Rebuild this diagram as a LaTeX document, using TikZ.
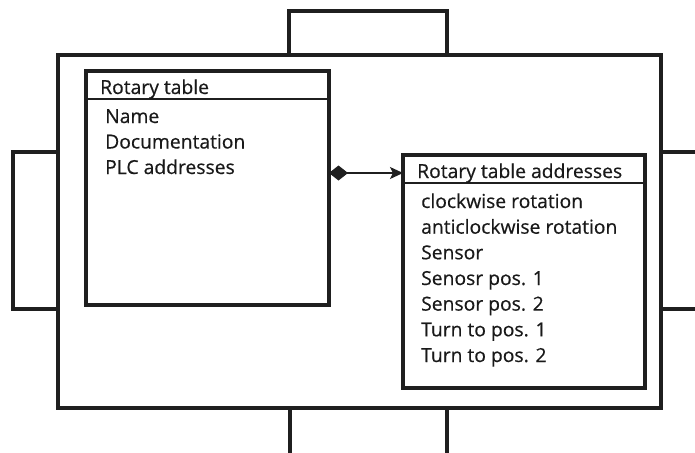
\documentclass[tikz,border=0pt]{standalone}
\usepackage{fontspec}
\setmainfont[FakeBold=0.5]{Open Sans}
\usetikzlibrary{arrows.meta}
\begin{document}
\begin{tikzpicture}[x=1pt,y=-1pt,
  frm/.style={draw=black!88, line width=3.3pt, inner sep=0pt, outer sep=0pt, anchor=north west},
  cls/.style={draw=black!88, line width=3.3pt, inner sep=0pt, outer sep=0pt, anchor=north west},
  sep/.style={draw=black!88, line width=1.6pt},
  txt/.style={inner sep=0pt, anchor=base west, font=\fontsize{19.3}{21}\selectfont, text=black!90},
  conn/.style={line width=1.2pt, draw=black!88}
]
\useasboundingbox (0,0) rectangle (695,452);
% tabs
\node[frm, minimum width=158pt, minimum height=44pt] (toptab) at (289,11) {};
\node[frm, minimum width=157pt, minimum height=60pt] (bottab) at (290,408) {};
\node[frm, minimum width=45pt, minimum height=157pt] (lefttab) at (13,152) {};
\node[frm, minimum width=60pt, minimum height=157pt] (righttab) at (661,152) {};
% frame
\node[frm, minimum width=603pt, minimum height=353pt] (frame) at (58,55) {};
% left class box
\node[cls, minimum width=243pt, minimum height=234pt] (rt) at (86,71) {};
\coordinate (rtsepl) at (86,99);
\coordinate (rtsepr) at (329,99);
\draw[sep] (rtsepl) -- (rtsepr);
\node[txt] (rttitle) at (100,94) {Rotary table};
\node[txt] (rt1) at (105,123) {Name};
\node[txt] (rt2) at (105,148.5) {Documentation};
\node[txt] (rt3) at (105,174) {PLC addresses};
% right class box
\node[cls, minimum width=242pt, minimum height=233pt] (rta) at (403,155) {};
\coordinate (rtasepl) at (403,183);
\coordinate (rtasepr) at (645,183);
\draw[sep] (rtasepl) -- (rtasepr);
\node[txt] (rtatitle) at (417,178) {Rotary table addresses};
\node[txt] (a1) at (421,208) {clockwise rotation};
\node[txt] (a2) at (421,233.7) {anticlockwise rotation};
\node[txt] (a3) at (421,259.3) {Sensor};
\node[txt] (a4) at (421,285) {Senosr pos. 1};
\node[txt] (a5) at (421,310.6) {Sensor pos. 2};
\node[txt] (a6) at (421,336.3) {Turn to pos. 1};
\node[txt] (a7) at (421,362) {Turn to pos. 2};
% connector
\coordinate (cs) at (rt.east |- 0,173);
\coordinate (ce) at (rta.west |- 0,173);
\draw[conn, {Diamond[width=15pt,length=19pt,fill=black!88]}-{Stealth[width=12pt,length=13pt,inset=3pt]}] (cs) -- (ce);
\end{tikzpicture}
\end{document}
